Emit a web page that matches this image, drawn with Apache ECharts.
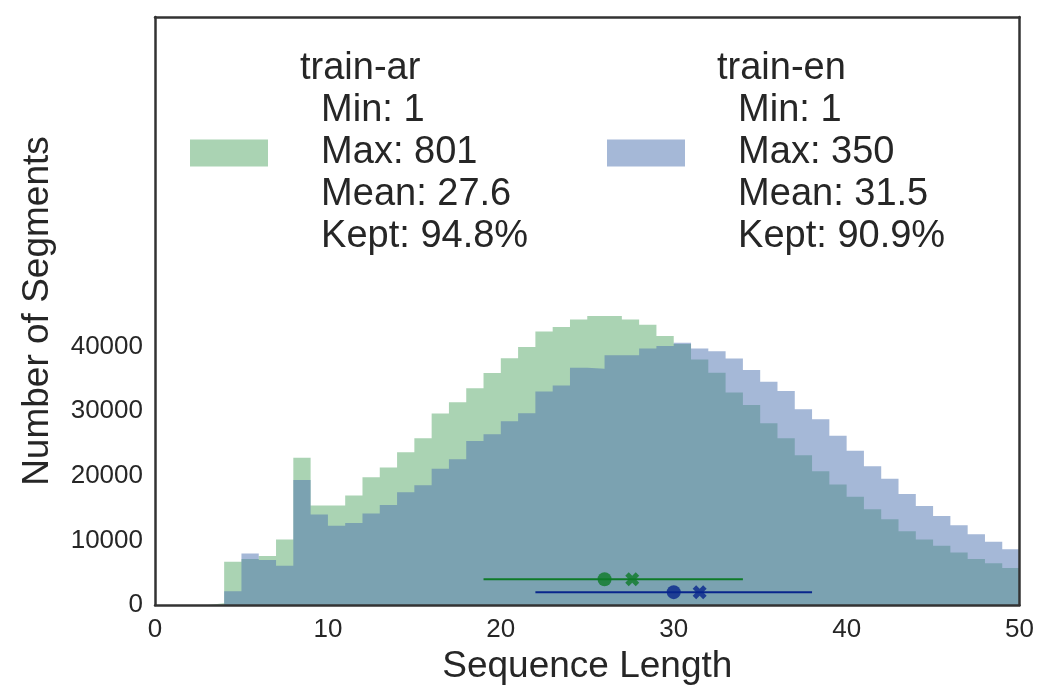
<!DOCTYPE html>
<html>
<head>
<meta charset="utf-8">
<title>Sequence length histogram</title>
<script src="https://cdn.jsdelivr.net/npm/echarts@6/dist/echarts.min.js"></script>
<style>
  html, body { margin: 0; padding: 0; background: #fff; }
  #main { width: 1037px; height: 690px; }
</style>
</head>
<body>
<div id="main"></div>
<script>
// left edges of the 1-wide bins, last edge closes the histogram
var binEdges = [0, 1, 2, 3, 4, 5, 6, 7, 8, 9, 10, 11, 12, 13, 14, 15, 16, 17, 18, 19,
    20, 21, 22, 23, 24, 25, 26, 27, 28, 29, 30, 31, 32, 33, 34, 35, 36, 37, 38, 39,
    40, 41, 42, 43, 44, 45, 46, 47, 48, 49, 50];

// counts per bin
var arCounts = [0, 0, 0, 300, 6700, 7150, 7600, 10150, 22800, 15400,
    15400, 16970, 19800, 21300, 23650, 25800, 29650, 31400, 33540, 35900,
    38200, 39950, 42330, 43030, 44200, 44720, 44720, 44200, 43380, 41640,
    40400, 38000, 35950, 32900, 30970, 28150, 25800, 23180, 20720, 18670,
    16770, 14820, 13280, 11430, 10150, 9180, 8150, 7120, 6460, 5740];
var enCounts = [0, 0, 0, 0, 2150, 8000, 6970, 6100, 19350, 14000,
    12260, 12700, 14180, 15490, 17450, 18530, 21100, 22580, 25400, 26450,
    28450, 29690, 33050, 33970, 36720, 36570, 38670, 38670, 39690, 40100,
    40600, 39690, 39280, 38150, 36360, 34560, 33130, 30310, 28770, 26200,
    23900, 21490, 19540, 17180, 15330, 13800, 12360, 10970, 9800, 8660];

var seriesNames = ['train-ar', 'train-en'];
var legendText = [
    ['train-ar', '  Min: 1', '  Max: 801', '  Mean: 27.6', '  Kept: 94.8%'],
    ['train-en', '  Min: 1', '  Max: 350', '  Mean: 31.5', '  Kept: 90.9%']
];

// spread markers: [low, high], median, mean, height they sit at
var arRange = [19, 34], arMedian = 26, arMean = 27.6, arLevel = 4000;
var enRange = [22, 38], enMedian = 30, enMean = 31.5, enLevel = 2000;

var yTicks = [0, 10000, 20000, 30000, 40000];

var fillColors = ['#55A868', '#4C72B0'];
var markColors = ['#0e7a28', '#08268c'];
var textColor = '#262626';
var font = 'Liberation Sans, Arial, sans-serif';
var xMarker = 'path://M-1,-0.5 L-0.5,-1 L0,-0.5 L0.5,-1 L1,-0.5 L0.5,0 L1,0.5 L0.5,1 L0,0.5 L-0.5,1 L-1,0.5 L-0.5,0 Z';

function stepData(counts) {
    var d = [];
    for (var i = 0; i < counts.length; i++) {
        d.push([binEdges[i], counts[i]]);
    }
    d.push([binEdges[counts.length], counts[counts.length - 1]]);
    return d;
}

function histSeries(name, counts, color) {
    return {
        name: name,
        type: 'line',
        step: 'end',
        data: stepData(counts),
        symbol: 'none',
        lineStyle: { width: 0, opacity: 0 },
        itemStyle: { color: color, opacity: 0.5 },
        areaStyle: { color: color, opacity: 0.5 },
        silent: true,
        z: 1
    };
}

function spreadSeries(range, median, mean, level, color) {
    return [{
        type: 'line',
        data: [[range[0], level], [range[1], level]],
        symbol: 'none',
        lineStyle: { color: color, width: 2 },
        silent: true,
        z: 5
    }, {
        type: 'scatter',
        data: [[median, level]],
        symbol: 'circle',
        symbolSize: 14,
        itemStyle: { color: color },
        silent: true,
        z: 6
    }, {
        type: 'scatter',
        data: [[mean, level]],
        symbol: xMarker,
        symbolSize: 14,
        itemStyle: { color: color },
        silent: true,
        z: 6
    }];
}

var chart = echarts.init(document.getElementById('main'));

var frameLine = { show: true, onZero: false, lineStyle: { color: '#333', width: 2.5 } };

var option = {
    animation: false,
    backgroundColor: '#fff',
    textStyle: { fontFamily: font, color: textColor },
    grid: { left: 155, right: 17, top: 17, bottom: 82 },
    legend: [0, 1].map(function (k) {
        return {
            data: [seriesNames[k]],
            left: k === 0 ? 190 : 607,
            top: 48,
            padding: 0,
            itemWidth: 78,
            itemHeight: 27,
            icon: 'rect',
            selectedMode: false,
            formatter: function () { return legendText[k].join('\n'); },
            textStyle: {
                fontFamily: font,
                fontSize: 38,
                lineHeight: 42,
                color: textColor,
                padding: [0, 0, 0, 27]
            }
        };
    }),
    xAxis: [{
        type: 'value',
        min: 0,
        max: 50,
        interval: 10,
        name: 'Sequence Length',
        nameLocation: 'middle',
        nameGap: 42,
        nameTextStyle: { fontFamily: font, fontSize: 37, color: textColor },
        axisLine: frameLine,
        axisTick: { show: false },
        splitLine: { show: false },
        axisLabel: { fontFamily: font, fontSize: 26, color: textColor, margin: 12 },
        z: 10
    }, {
        type: 'value',
        position: 'top',
        min: 0,
        max: 50,
        axisLine: frameLine,
        axisTick: { show: false },
        axisLabel: { show: false },
        splitLine: { show: false },
        z: 10
    }],
    yAxis: [{
        type: 'value',
        min: 0,
        max: 91000,
        interval: 10000,
        name: 'Number of Segments',
        nameLocation: 'middle',
        nameGap: 99,
        nameTextStyle: { fontFamily: font, fontSize: 37, color: textColor },
        axisLine: frameLine,
        axisTick: { show: false },
        splitLine: { show: false },
        axisLabel: {
            fontFamily: font,
            fontSize: 26,
            color: textColor,
            margin: 12,
            formatter: function (v) { return yTicks.indexOf(v) >= 0 ? String(v) : ''; }
        },
        z: 10
    }, {
        type: 'value',
        position: 'right',
        min: 0,
        max: 91000,
        axisLine: frameLine,
        axisTick: { show: false },
        axisLabel: { show: false },
        splitLine: { show: false },
        z: 10
    }],
    series: [
        histSeries(seriesNames[0], arCounts, fillColors[0]),
        histSeries(seriesNames[1], enCounts, fillColors[1])
    ].concat(
        spreadSeries(arRange, arMedian, arMean, arLevel, markColors[0]),
        spreadSeries(enRange, enMedian, enMean, enLevel, markColors[1])
    )
};

chart.setOption(option);
</script>
</body>
</html>
